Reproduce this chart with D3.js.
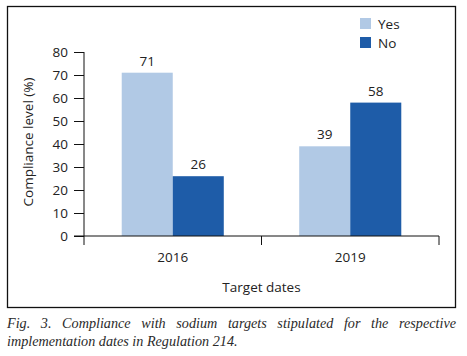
<!DOCTYPE html>
<html>
<head>
<meta charset="utf-8">
<script src="https://cdn.jsdelivr.net/npm/d3@7"></script>
<style>
  body { margin: 0; background: #fff; }
  #wrap { position: relative; width: 467px; height: 356px; }
  #caption {
    position: absolute; left: 7px; top: 315px; width: 449px;
    font-family: "Liberation Serif", serif; font-style: italic;
    font-size: 14.2px; line-height: 17.5px; color: #2a2a2a;
    text-align: justify;
  }
</style>
</head>
<body>
<div id="wrap"></div>
<script>
const years = ["2016", "2019"];
const groups = ["Yes", "No"];
const yes = [71, 39];
const no = [26, 58];
const yTicks = [0, 10, 20, 30, 40, 50, 60, 70, 80];

const width = 467, height = 356;
const marginLeft = 84, marginRight = 28, marginTop = 52, plotBottom = 236;
const font = "'Open Sans', sans-serif";

const data = years.map((yr, i) => ({year: yr, Yes: yes[i], No: no[i]}));

const x = d3.scaleBand(years, [marginLeft, width - marginRight]);
const x1 = d3.scaleBand(groups, [x.bandwidth() * 0.2125, x.bandwidth() * 0.7875]);
const y = d3.scaleLinear([0, 80], [plotBottom, marginTop]);
const color = d3.scaleOrdinal(groups, ["#b1c9e5", "#1e5ca8"]);

const svg = d3.select("#wrap").append("svg")
    .attr("width", width)
    .attr("height", height)
    .attr("viewBox", [0, 0, width, height])
    .attr("font-family", font)
    .style("position", "absolute");

// frame
svg.append("rect")
    .attr("x", 7.5).attr("y", 6.5)
    .attr("width", 448).attr("height", 301)
    .attr("fill", "none")
    .attr("stroke", "#111")
    .attr("stroke-width", 1.3);

// bars
const g = svg.append("g")
  .selectAll("g")
  .data(data)
  .join("g")
    .attr("transform", d => `translate(${x(d.year)},0)`);

g.selectAll("rect")
  .data(d => groups.map(k => ({key: k, value: d[k]})))
  .join("rect")
    .attr("x", d => x1(d.key))
    .attr("y", d => y(d.value))
    .attr("width", x1.bandwidth())
    .attr("height", d => y(0) - y(d.value))
    .attr("fill", d => color(d.key));

g.selectAll("text")
  .data(d => groups.map(k => ({key: k, value: d[k]})))
  .join("text")
    .attr("x", d => x1(d.key) + x1.bandwidth() / 2)
    .attr("y", d => y(d.value) - 7)
    .attr("text-anchor", "middle")
    .attr("font-size", 13.5)
    .attr("fill", "#222")
    .text(d => d.value);

// y axis
svg.append("g")
    .attr("transform", `translate(${marginLeft},0)`)
    .call(d3.axisLeft(y).tickValues(yTicks).tickSize(10).tickPadding(6).tickSizeOuter(0))
    .call(a => a.select(".domain").attr("stroke", "#111").attr("d", `M0,${y(80)}V${plotBottom + 9}`))
    .call(a => a.selectAll(".tick line").attr("stroke", "#111"))
    .call(a => a.selectAll(".tick text").attr("font-size", 13.5).attr("fill", "#222").attr("font-family", font));

// x axis: ticks at band boundaries, labels at band centres
const xAxis = svg.append("g").attr("transform", `translate(0,${plotBottom})`);
xAxis.append("path")
    .attr("d", `M${marginLeft - 10},0H${x.range()[1]}`)
    .attr("stroke", "#111")
    .attr("fill", "none");
xAxis.selectAll("line")
  .data(years.map(d => x(d) + x.bandwidth()))
  .join("line")
    .attr("x1", d => d).attr("x2", d => d)
    .attr("y1", 0).attr("y2", 9)
    .attr("stroke", "#111");
xAxis.selectAll("text")
  .data(years)
  .join("text")
    .attr("x", d => x(d) + x.bandwidth() / 2)
    .attr("y", 26)
    .attr("text-anchor", "middle")
    .attr("font-size", 13.5)
    .attr("fill", "#222")
    .text(d => d);

// axis titles
svg.append("text")
    .attr("transform", `translate(33,${(y(80) + plotBottom) / 2 - 2}) rotate(-90)`)
    .attr("text-anchor", "middle")
    .attr("font-size", 13.5)
    .attr("fill", "#222")
    .text("Compliance level (%)");

svg.append("text")
    .attr("x", (x.range()[0] + x.range()[1]) / 2)
    .attr("y", 292)
    .attr("text-anchor", "middle")
    .attr("font-size", 13.5)
    .attr("fill", "#222")
    .text("Target dates");

// legend
const legend = svg.append("g")
  .selectAll("g")
  .data(groups)
  .join("g")
    .attr("transform", (d, i) => `translate(360,${18 + i * 19})`);
legend.append("rect")
    .attr("width", 11).attr("height", 11)
    .attr("fill", d => color(d));
legend.append("text")
    .attr("x", 18).attr("y", 10.5)
    .attr("font-size", 13.5)
    .attr("fill", "#222")
    .text(d => d);

d3.select("#wrap").append("div")
    .attr("id", "caption")
    .text("Fig. 3. Compliance with sodium targets stipulated for the respective implementation dates in Regulation 214.");
</script>
</body>
</html>
